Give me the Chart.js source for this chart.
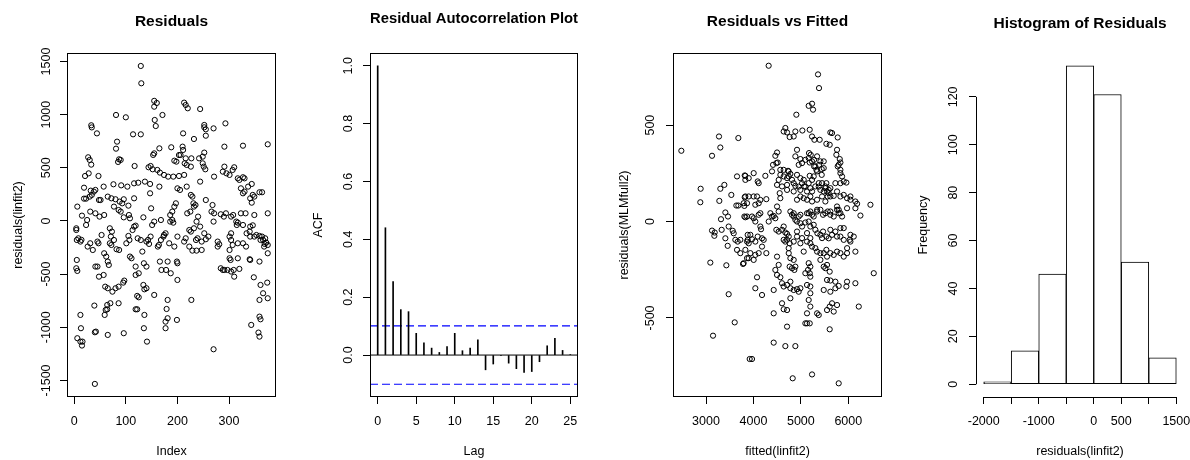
<!DOCTYPE html>
<html lang="en">
<head>
  <meta charset="UTF-8">
  <title>Residual diagnostics</title>
  <script src="https://cdn.jsdelivr.net/npm/chart.js"></script>
  <style>
    body {
      margin: 0;
      background: #fff;
      width: 1190px;
      height: 460px;
      position: relative;
      overflow: hidden;
    }
    canvas {
      position: absolute;
      top: 0;
    }
  </style>
</head>
<body>
  <canvas id="resPlot" width="281" height="460" style="left:0px"></canvas>
  <canvas id="acfPlot" width="281" height="460" style="left:303px"></canvas>
  <canvas id="fitPlot" width="281" height="460" style="left:606px"></canvas>
  <canvas id="histPlot" width="281" height="460" style="left:909px"></canvas>

  <script>
    // --- Residuals vs index ---
    const resPts = [
      [129,1458],[130,1295],[155,1130],[160,1110],[155,1075],[171,997],[156,950],[158,893],[81,997],[100,975],
      [33,900],[34,880],[44,824],[114,815],[129,815],[83,746],[81,680],[165,683],[188,693],[153,621],[155,636],
      [27,599],[30,574],[33,530],[87,580],[90,574],[85,555],[117,517],[144,505],[148,517],[194,567],[198,558],
      [203,620],[152,486],[161,480],[166,455],[174,433],[182,417],[192,417],[203,423],[21,423],[28,448],[47,423],
      [76,345],[91,335],[103,323],[116,354],[124,360],[137,370],[147,348],[147,260],[165,323],[19,313],[32,285],
      [38,276],[41,292],[57,323],[19,210],[23,210],[30,229],[34,245],[48,197],[51,197],[65,229],[72,213],[80,204],
      [88,182],[93,166],[96,204],[105,144],[116,213],[6,135],[15,50],[25,9],[31,88],[41,72],[49,41],[58,56],
      [77,135],[86,103],[106,56],[108,25],[90,88],[96,34],[134,34],[149,119],[168,9],[186,56],[190,88],[194,135],
      [197,166],[4,-69],[4,-85],[5,-179],[8,-163],[12,-194],[14,-178],[23,-38],[26,-241],[31,-210],[36,-273],
      [47,-210],[45,-194],[53,-132],[58,-304],[62,-335],[65,-382],[67,-414],[69,-69],[73,-100],[71,-147],[69,-210],
      [72,-226],[77,-179],[82,-266],[87,-273],[101,-210],[105,-141],[107,-179],[108,-335],[111,-351],[113,-85],
      [116,-53],[119,-44],[119,-429],[123,-163],[129,-179],[132,-288],[140,-194],[143,-178],[145,-216],[135,-398],
      [140,-429],[148,-147],[151,-38],[155,-6],[162,-241],[164,-226],[168,-179],[173,-147],[174,-132],[177,-116],
      [186,-6],[190,9],[192,-16],[184,-210],[194,-241],[166,-382],[181,-382],[169,-461],[178,-461],[187,-492],
      [200,-555],[155,-696],[119,-508],[125,-492],[134,-602],[136,-643],[140,-633],[122,-705],[125,-718],[119,-831],
      [122,-831],[136,-884],[135,-1009],[141,-1135],[181,-743],[179,-828],[177,-947],[181,-915],[177,-1009],
      [199,-931],[5,-367],[4,-445],[6,-470],[41,-429],[45,-429],[48,-524],[57,-508],[60,-618],[65,-633],[80,-633],
      [86,-618],[95,-580],[97,-561],[74,-665],[64,-790],[61,-837],[64,-831],[70,-774],[86,-774],[59,-884],[39,-796],
      [12,-884],[13,-1009],[6,-1103],[12,-1135],[15,-1172],[16,-1135],[40,-1047],[42,-1041],[65,-1072],[96,-1056],
      [40,-1533],
      [213,1113],[216,1091],[220,1060],[244,1053],[252,903],[252,881],[255,862],[270,871],[293,918],[211,824],
      [232,771],[255,802],[291,699],[327,708],[375,721],[210,699],[211,668],[206,621],[216,589],[218,527],[214,542],
      [227,589],[226,511],[242,589],[249,605],[252,643],[249,542],[251,511],[254,486],[271,417],[213,433],[200,307],
      [205,292],[218,323],[226,245],[229,229],[231,166],[232,135],[235,150],[225,88],[219,72],[255,197],[244,370],
      [291,511],[288,464],[295,448],[301,433],[307,480],[310,505],[317,401],[320,386],[327,411],[330,401],[323,307],
      [327,260],[330,276],[337,323],[344,348],[346,245],[349,229],[359,270],[364,270],[341,213],[344,172],[268,150],
      [266,88],[271,72],[284,63],[290,41],[294,72],[304,41],[308,56],[323,72],[332,72],[349,56],[375,72],[314,-6],
      [317,-16],[315,-38],[327,-38],[341,-53],[346,-41],[240,41],[237,-6],[270,-6],[223,-85],[226,-100],[232,-69],
      [244,-53],[252,-116],[260,-147],[255,-172],[236,-179],[239,-163],[247,-194],[213,-194],[216,-163],[200,-147],
      [223,-241],[229,-279],[237,-279],[247,-273],[278,-194],[281,-219],[278,-241],[304,-116],[301,-147],[304,-179],
      [307,-226],[301,-273],[334,-116],[340,-100],[341,-147],[349,-147],[353,-132],[359,-141],[364,-147],[361,-179],
      [366,-179],[370,-163],[369,-216],[372,-204],[368,-241],[375,-226],[317,-210],[327,-210],[301,-351],[303,-367],
      [317,-351],[333,-241],[340,-360],[341,-367],[359,-382],[375,-304],[199,-382],[200,-398],[284,-445],[288,-461],
      [291,-461],[297,-461],[304,-476],[309,-461],[320,-451],[310,-524],[348,-530],[361,-602],[366,-680],[374,-580],
      [375,-727],[359,-743],[343,-978],[359,-900],[361,-925],[357,-1050],[359,-1088],[227,-743],[270,-1207]
    ];
    const resIndex = resPts.map(p => p[0]);
    const resValue = resPts.map(p => p[1]);
    const resXTicks = [0, 100, 200, 300];
    const resYTicks = [-1500, -1000, -500, 0, 500, 1000, 1500];

    // --- ACF ---
    const acfLags = [0,1,2,3,4,5,6,7,8,9,10,11,12,13,14,15,16,17,18,19,20,21,22,23,24,25];
    const acfValues = [1.0,0.44,0.254,0.157,0.150,0.075,0.042,0.024,0.009,0.029,0.075,0.015,0.024,0.053,
                       -0.051,-0.031,-0.002,-0.028,-0.047,-0.060,-0.057,-0.023,0.032,0.058,0.016,0.002];
    const acfBound = 0.101;
    const acfXTicks = [0, 5, 10, 15, 20, 25];
    const acfYTicks = [0, 0.2, 0.4, 0.6, 0.8, 1.0];

    // --- Residuals vs fitted ---
    const fitPts = [
      [2480,367],[3274,441],[3302,384],[3127,341],[3682,433],[3654,234],[3816,239],[3830,216],[2887,170],[2880,100],
      [3302,170],[3387,190],[3281,107],[3534,138],[3816,126],[3640,83],[3682,83],[3865,95],[3408,47],[3464,26],
      [3316,12],[3809,26],[3830,22],[3478,-26],[3563,-48],[3584,-61],[3127,-47],[3183,-57],[3176,-74],[3330,-43],
      [3408,-87],[3457,-126],[3619,-95],[3668,-104],[3724,-95],[3654,-147],[3879,-69],[3879,-95],[3900,-113],
      [3091,-213],[3429,-227],[3781,-220],[3865,-190],[3478,-377],[3605,-523],[3148,-592],[3921,-713],
      [4321,808],[5362,763],[5383,692],[5165,600],[5236,611],[5257,580],[4905,554],[4673,485],[4638,467],[4709,462],
      [4764,438],[4849,441],[4884,467],[5032,472],[5187,476],[5236,441],[5285,424],[5397,424],[5538,403],[5608,398],
      [5622,462],[5657,459],[5777,436],[5763,372],[5749,346],[5820,324],[5834,306],[5777,286],[5834,251],[5869,234],
      [5904,208],[5960,202],[4498,358],[4462,341],[4483,303],[4511,306],[4413,294],[4392,260],[4919,372],[4884,338],
      [4990,324],[4955,294],[5025,303],[5172,355],[5208,346],[5187,306],[5279,320],[5279,286],[5328,268],[5384,294],
      [5440,272],[5440,242],[4638,268],[4729,263],[4779,247],[4744,234],[4814,216],[4884,185],[4849,156],[4568,242],
      [4533,216],[4603,182],[4554,147],[4919,242],[4990,225],[5025,199],[5067,182],[5130,156],[5187,237],[5236,216],
      [5306,182],[5377,199],[5517,182],[5552,156],[5587,147],[5622,173],[5538,199],[5566,130],[5693,133],[5834,130],
      [5904,138],[5974,121],[6045,130],[6150,104],[6186,92],[6150,69],[6256,31],[6467,87],[5763,78],[5798,61],
      [5834,43],[5974,69],[3830,237],[3900,225],[4005,251],[4090,208],[4111,199],[4251,237],[3900,130],[4005,130],
      [4040,87],[4146,112],[4272,116],[3794,95],[3808,81],[3865,26],[3970,26],[4005,17],[4040,0],[4111,35],[4146,43],
      [4160,-40],[4357,43],[4392,26],[4427,29],[4462,17],[4322,0],[4483,-43],[4533,-52],[4603,-43],[4638,-26],
      [4673,-57],[4709,-64],[4779,52],[4814,35],[4849,43],[4884,9],[4919,0],[4955,26],[4990,-9],[5025,-26],[5095,-5],
      [5165,43],[5200,52],[5236,35],[5271,26],[5342,52],[5412,61],[5468,35],[5517,43],[5566,52],[5622,35],[5693,26],
      [5763,61],[5798,43],[5869,26],[5165,0],[5200,-26],[5271,-17],[5306,-43],[5349,-61],[5412,-69],[5468,-52],
      [5538,-78],[5587,-87],[5622,-43],[5728,-52],[5763,-78],[5834,-78],[5904,-95],[6030,-95],[6115,-78],[6150,-156],
      [4638,-95],[4673,-104],[4744,-78],[4764,-113],[4849,-104],[4919,-78],[4990,-113],[3935,-69],[3970,-92],
      [4090,-78],[4181,-87],[4216,-95],[3723,-164],[3830,-147],[3935,-164],[4040,-173],[4111,-164],[5130,-104],
      [5200,-113],[5236,-130],[5306,-138],[5342,-156],[5412,-164],[5482,-164],[5538,-147],[5622,-164],[5693,-173],
      [5763,-156],[5834,-164],[5904,-182],[5974,-164],[4744,-164],[4779,-190],[4849,-199],[4884,-234],[4814,-242],
      [4764,-234],[4863,-251],[5165,-216],[5200,-234],[5187,-268],[5200,-286],[5151,-251],[5412,-199],[5482,-234],
      [5517,-242],[5552,-225],[5608,-260],[4462,-251],[4498,-277],[4568,-289],[4603,-320],[4638,-337],[4709,-329],
      [4779,-312],[4076,-289],[4040,-346],[4181,-381],[4427,-355],[4779,-346],[4849,-355],[4919,-351],[4990,-346],
      [5130,-329],[5200,-337],[5552,-303],[5622,-306],[5728,-346],[5798,-334],[5974,-312],[5960,-337],[6150,-320],
      [6537,-268],[6221,-441],[5165,-407],[5200,-441],[5130,-476],[5342,-476],[5377,-485],[5552,-459],[5608,-441],
      [5657,-424],[5693,-467],[4603,-424],[4638,-455],[4709,-459],[4427,-476],[5130,-528],[5187,-528],[4709,-545],
      [5608,-559],[4427,-628],[4673,-646],[4884,-646],[3970,-713],[4828,-813],[5236,-793],[5798,-839],
      [5095,320],[5165,329],[5236,312],[5342,338],[5306,286],[5412,312],[5482,312],[5482,277],[5342,260],[5798,294],
      [5834,268],[5834,199],[5728,199],[4498,190],[4567,268],[4637,234],[4743,260],[4709,225],[4709,190],[4709,164],
      [4849,199],[4954,181],[4990,164],[5060,216],[5095,181],[5165,199],[5200,173],[5236,156],[5271,234],[5377,181],
      [5412,164],[5447,199],[5482,156],[5517,173],[5587,164],[5622,130],[4990,130],[5060,121],[4919,113],[5130,113],
      [5200,130],[5236,104],[5342,113],[5447,130],[5517,104],[5763,156],[6045,113],[3829,130],[4076,130],[4111,95],
      [4498,78],[4567,121],[4532,52],[4849,26],[4990,35],[5130,43],[5342,61],[5622,52],
      [5130,-60],[5200,-86],[5447,-86],[5657,-69],[5834,-34],[5904,-34],[6045,-69],[6045,-104],[5975,-138],[5552,-182],
      [5060,-156],[4743,-138],[4498,-182],[4532,-225],[4040,-104],[4181,-130],[4272,-164],[3865,-104],[3900,-190],
      [4005,-199],[3794,-216],[5095,-268],[4954,-364],[5200,-372],[5482,-355],[5622,-364],[5728,-312],[4779,-398],
      [5763,-433],[5095,-528],[4146,-26],[4919,-52],[5025,-86],[4709,-95]
    ];
    const fitX = fitPts.map(p => p[0]);
    const fitY = fitPts.map(p => p[1]);
    const fitXTicks = [3000, 4000, 5000, 6000];
    const fitYTicks = [-500, 0, 500];

    // --- Histogram ---
    const histBreaks = [-2000, -1500, -1000, -500, 0, 500, 1000, 1500];
    const histCounts = [1, 14, 46, 133, 121, 51, 11];
    const histYTicks = [0, 20, 40, 60, 80, 100, 120];
    const histXLabels = { '-2000': '-2000', '-1000': '-1000', '0': '0', '500': '500', '1500': '1500' };

    Chart.defaults.font.family = "'Liberation Sans', Arial, sans-serif";
    Chart.defaults.font.size = 12.5;
    Chart.defaults.color = '#000';
    Chart.defaults.animation = false;
    Chart.defaults.plugins.legend.display = false;
    Chart.defaults.plugins.tooltip.enabled = false;

    // box round the plot, or R style axis lines from first to last tick
    const frame = {
      id: 'frame',
      afterDraw(chart, args, opts) {
        const { ctx, chartArea: a, scales } = chart;
        ctx.save();
        ctx.strokeStyle = '#000';
        ctx.lineWidth = 1;
        if (opts.box) {
          const l = Math.round(a.left) + 0.5, r = Math.round(a.right) - 0.5;
          const t = Math.round(a.top) + 0.5, b = Math.round(a.bottom) - 0.5;
          ctx.strokeRect(l, t, r - l, b - t);
        } else {
          const xs = scales.x, ys = scales.y;
          const xt = xs.ticks, yt = ys.ticks;
          const yLine = Math.round(xs.top) + 0.5;
          const xLine = Math.round(ys.right) + 0.5;
          ctx.beginPath();
          ctx.moveTo(xs.getPixelForValue(xt[0].value), yLine);
          ctx.lineTo(xs.getPixelForValue(xt[xt.length - 1].value), yLine);
          ctx.moveTo(xLine, ys.getPixelForValue(yt[0].value));
          ctx.lineTo(xLine, ys.getPixelForValue(yt[yt.length - 1].value));
          ctx.stroke();
        }
        ctx.restore();
      }
    };

    function axis(min, max, ticks, o) {
      const vertical = !!o.vertical;
      return {
        type: 'linear',
        min: min,
        max: max,
        offset: false,
        border: { display: false },
        grid: { drawOnChartArea: false, drawTicks: true, tickLength: 7, color: '#000', offset: false },
        ticks: {
          autoSkip: false,
          includeBounds: false,
          padding: o.pad,
          color: '#000',
          minRotation: vertical ? 90 : 0,
          maxRotation: vertical ? 90 : 0,
          crossAlign: vertical ? 'center' : 'near',
          callback: o.fmt || (v => String(v))
        },
        title: { display: true, text: o.title, color: '#000', padding: o.tpad },
        afterBuildTicks: s => { s.ticks = ticks.map(v => ({ value: v })); },
        afterFit: s => {
          if (vertical) { s.width = 67; s.paddingTop = 0; s.paddingBottom = 0; }
          else { s.height = 63; s.paddingLeft = 0; s.paddingRight = 0; }
        }
      };
    }

    function titleOpts(text, centerY) {
      const top = centerY - 9.3;
      return {
        display: true, text: text, fullSize: false, color: '#000',
        font: { size: 15.5, weight: 'bold' },
        padding: { top: top, bottom: 53 - top - 18.6 }
      };
    }

    const xTitlePad = { bottom: 1 };

    // 1. Residuals
    new Chart(document.getElementById('resPlot'), {
      type: 'scatter',
      data: {
        datasets: [{
          data: resIndex.map((x, i) => ({ x: x, y: resValue[i] })),
          pointRadius: 2.6, borderWidth: 1, borderColor: '#000', backgroundColor: 'rgba(0,0,0,0)'
        }]
      },
      options: {
        responsive: false, devicePixelRatio: 1,
        layout: { padding: { left: 0, right: 5, top: 0, bottom: 0 } },
        plugins: { title: titleOpts('Residuals', 22), frame: { box: true } },
        scales: {
          x: axis(-14, 391, resXTicks, { pad: 10, title: 'Index', tpad: xTitlePad }),
          y: axis(-1656, 1580, resYTicks, { vertical: true, pad: -2.3, title: 'residuals(linfit2)', tpad: { top: 10.8 } })
        }
      },
      plugins: [frame]
    });

    // 2. ACF
    new Chart(document.getElementById('acfPlot'), {
      type: 'bar',
      data: {
        datasets: [
          {
            data: acfLags.map((l, i) => ({ x: l, y: acfValues[i] })),
            backgroundColor: '#000', barThickness: 1
          },
          {
            type: 'line', data: [{ x: -1, y: 0 }, { x: 26, y: 0 }],
            borderColor: '#000', borderWidth: 1, pointRadius: 0
          },
          {
            type: 'line', data: [{ x: -1, y: acfBound }, { x: 26, y: acfBound }],
            borderColor: '#0000ff', borderWidth: 1.2, borderDash: [8, 4], pointRadius: 0
          },
          {
            type: 'line', data: [{ x: -1, y: -acfBound }, { x: 26, y: -acfBound }],
            borderColor: '#0000ff', borderWidth: 1.2, borderDash: [8, 4], pointRadius: 0
          }
        ]
      },
      options: {
        responsive: false, devicePixelRatio: 1,
        layout: { padding: { left: 0, right: 6, top: 0, bottom: 0 } },
        plugins: { title: titleOpts('Residual Autocorrelation Plot', 18.3), frame: { box: true } },
        scales: {
          x: axis(-1, 26, acfXTicks, { pad: 10, title: 'Lag', tpad: xTitlePad }),
          y: axis(-0.145, 1.044, acfYTicks, { vertical: true, pad: 6, title: 'ACF', tpad: { top: 7.8 }, fmt: v => v.toFixed(1) })
        }
      },
      plugins: [frame]
    });

    // 3. Residuals vs fitted
    new Chart(document.getElementById('fitPlot'), {
      type: 'scatter',
      data: {
        datasets: [{
          data: fitX.map((x, i) => ({ x: x, y: fitY[i] })),
          pointRadius: 2.6, borderWidth: 1, borderColor: '#000', backgroundColor: 'rgba(0,0,0,0)'
        }]
      },
      options: {
        responsive: false, devicePixelRatio: 1,
        layout: { padding: { left: 0, right: 5, top: 0, bottom: 0 } },
        plugins: { title: titleOpts('Residuals vs Fitted', 22), frame: { box: true } },
        scales: {
          x: axis(2304, 6711, fitXTicks, { pad: 10, title: 'fitted(linfit2)', tpad: xTitlePad }),
          y: axis(-910, 874, fitYTicks, { vertical: true, pad: 2.5, title: 'residuals(MLMfull2)', tpad: { top: 11.5 } })
        }
      },
      plugins: [frame]
    });

    // 4. Histogram
    const histMids = histCounts.map((c, i) => (histBreaks[i] + histBreaks[i + 1]) / 2);
    new Chart(document.getElementById('histPlot'), {
      type: 'bar',
      data: {
        datasets: [{
          data: histMids.map((m, i) => ({ x: m, y: histCounts[i] })),
          backgroundColor: '#fff', borderColor: '#000', borderWidth: 1, borderSkipped: false,
          barPercentage: 1, categoryPercentage: 1
        }]
      },
      options: {
        responsive: false, devicePixelRatio: 1,
        layout: { padding: { left: 0, right: 6, top: 0, bottom: 0 } },
        plugins: { title: titleOpts('Histogram of Residuals', 23.8), frame: { box: false } },
        scales: {
          x: axis(-2140, 1640, histBreaks, { pad: 10, title: 'residuals(linfit2)', tpad: xTitlePad, fmt: v => histXLabels[String(v)] || '' }),
          y: axis(-5.32, 138.32, histYTicks, { vertical: true, pad: 5.3, title: 'Frequency', tpad: { top: 6.8 } })
        }
      },
      plugins: [frame]
    });
  </script>
</body>
</html>
